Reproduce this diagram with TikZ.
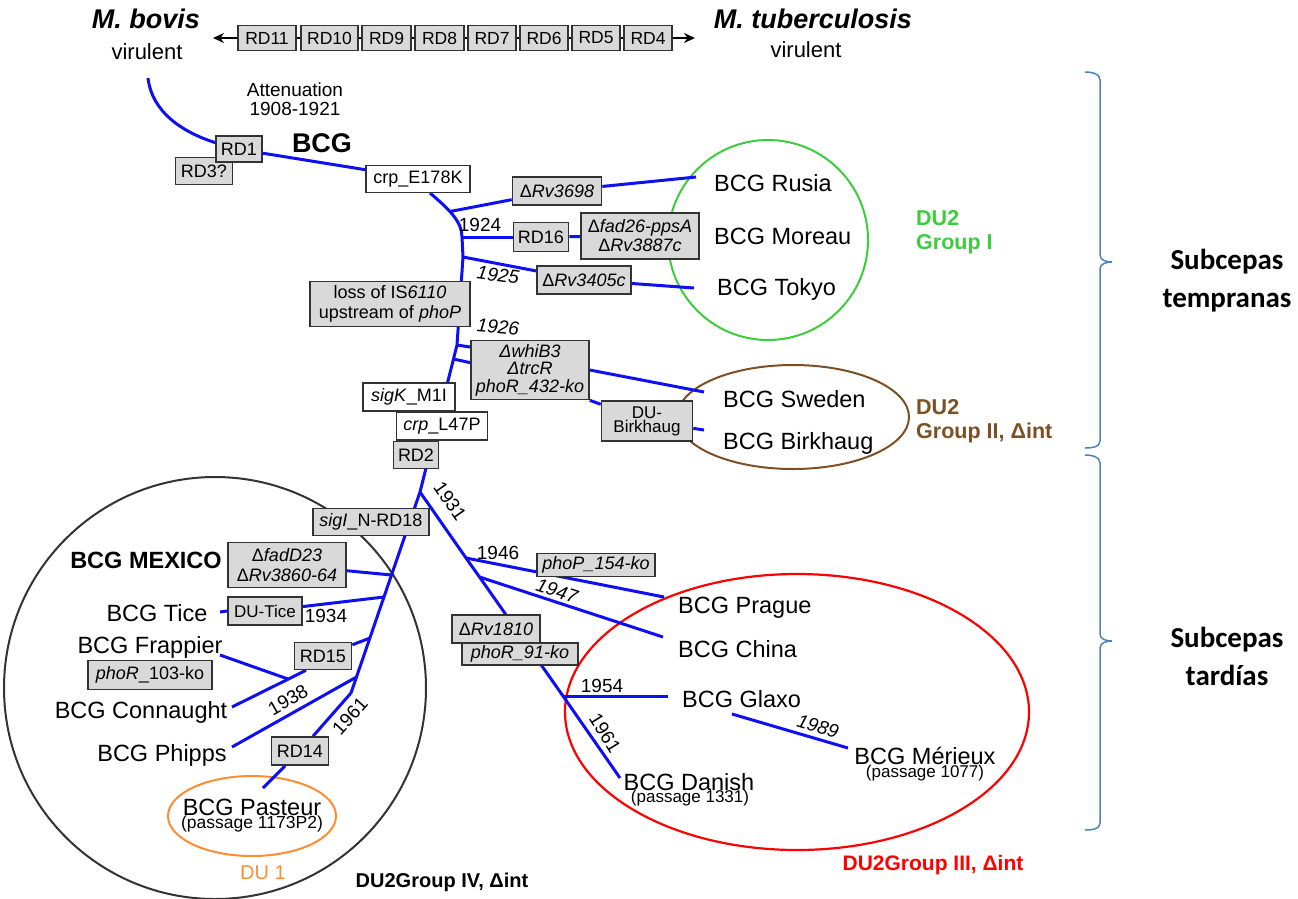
\documentclass[tikz,border=0pt]{standalone}
\usepackage{fontspec}
\setmainfont{Liberation Sans}
\newfontfamily\calibfont{Carlito}
\usetikzlibrary{arrows.meta}
\pgfdeclarelayer{back}
\pgfdeclarelayer{lines}
\pgfsetlayers{back,lines,main}
\definecolor{treeblue}{RGB}{15,15,245}
\definecolor{boxgray}{RGB}{217,217,217}
\definecolor{boxline}{RGB}{50,50,50}
\definecolor{grpgreen}{RGB}{60,205,60}
\definecolor{grpbrown}{RGB}{125,80,35}
\definecolor{grpred}{RGB}{255,0,0}
\definecolor{grporange}{RGB}{255,140,50}
\definecolor{bracecol}{RGB}{79,129,189}
\definecolor{circgray}{RGB}{51,51,51}
\begin{document}
\begin{tikzpicture}[x=1pt,y=-1pt,
  tree/.style={draw=treeblue,line width=3pt},
  gbox/.style={draw=boxline,fill=boxgray,line width=1.6pt,inner sep=0pt,align=center,font=\fontsize{18}{18}\selectfont},
  wbox/.style={gbox,fill=white},
  sz/.style 2 args={minimum width=#1pt,minimum height=#2pt},
  strain/.style={inner sep=0pt,font=\fontsize{23.5}{24}\selectfont},
  small/.style={inner sep=0pt,font=\fontsize{17}{17}\selectfont},
  yr/.style={inner sep=0pt,font=\fontsize{19}{19}\selectfont},
  yri/.style={inner sep=0pt,font=\fontsize{19}{19}\selectfont\itshape},
  grp/.style={inner sep=0pt,align=left,font=\fontsize{21.5}{24}\selectfont\bfseries},
  brace/.style={draw=bracecol,line width=1.5pt},
]
\useasboundingbox (0,0) rectangle (1298,898);

% ---------- top row ----------
\node[inner sep=0pt,font=\fontsize{27}{27}\selectfont\bfseries\itshape] (bovis) at (146,19) {M. bovis};
\node[inner sep=0pt,font=\fontsize{22}{22}\selectfont] (bovisv) at (147,52) {virulent};
\node[inner sep=0pt,font=\fontsize{27}{27}\selectfont\bfseries\itshape] (mtb) at (813,19) {M. tuberculosis};
\node[inner sep=0pt,font=\fontsize{22}{22}\selectfont] (mtbv) at (806,50) {virulent};

\coordinate (arL) at (213,38);
\coordinate (arR) at (695,38);
\tikzset{rdb/.style={gbox,font=\fontsize{17.5}{17.5}\selectfont,minimum height=25pt}}
\node[rdb,minimum width=58pt] (rd11) at (267,38) {RD11};
\node[rdb,minimum width=57pt] (rd10) at (329.5,38) {RD10};
\node[rdb,minimum width=49pt] (rd9) at (386.5,38) {RD9};
\node[rdb,minimum width=49pt] (rd8) at (439.5,38) {RD8};
\node[rdb,minimum width=48pt] (rd7) at (492,38) {RD7};
\node[rdb,minimum width=48pt] (rd6) at (544,38) {RD6};
\node[rdb,minimum width=48pt] (rd5) at (596,38) {RD5};
\node[rdb,minimum width=48pt] (rd4) at (648,38) {RD4};

% ---------- upper tree ----------
\node[inner sep=0pt,align=center,font=\fontsize{19}{18.5}\selectfont] (att) at (295,99) {Attenuation\\1908-1921};
\node[inner sep=0pt,font=\fontsize{27}{27}\selectfont\bfseries] (bcg) at (322,143) {BCG};
\node[gbox,sz={57}{27}] (rd3) at (204,171) {RD3?};
\node[gbox,sz={46}{26}] (rd1) at (239,149) {RD1};
\node[wbox,sz={104}{27}] (crp1) at (418,179) {crp\_E178K};
\node[gbox,sz={89}{28}] (rv3698) at (557,191) {Δ\textit{Rv3698}};
\node[gbox,sz={55}{29}] (rd16) at (541,237) {RD16};
\node[gbox,sz={118}{46},font=\fontsize{18}{19}\selectfont] (fad26) at (640,236) {Δ\textit{fad26-ppsA}\\Δ\textit{Rv3887c}};
\node[gbox,sz={94}{28}] (rv3405) at (584,280) {Δ\textit{Rv3405c}};
\node[gbox,sz={160}{45},font=\fontsize{18}{20}\selectfont] (loss) at (390,304) {loss of IS\textit{6110}\\upstream of \textit{phoP}};
\node[gbox,sz={118}{59},font=\fontsize{18}{17.5}\selectfont\itshape] (whib) at (530,370) {Δ{}whiB3\\Δ{}trcR\\phoR\_432-ko};
\node[gbox,sz={91}{40},font=\fontsize{17}{14}\selectfont] (dub) at (647,421) {DU-\\Birkhaug};
\node[wbox,sz={92}{28}] (sigk) at (409,397) {\textit{sigK}\_M1I};
\node[wbox,sz={91}{28}] (crp2) at (442,426) {\textit{crp}\_L47P};
\node[gbox,sz={45}{27}] (rd2) at (416,455) {RD2};

\node[yr] (y1924) at (480,225) {1924};
\node[yri,rotate=-8] (y1925) at (498,275) {1925};
\node[yri,rotate=-5] (y1926) at (498,327) {1926};

\node[strain,anchor=west] (rusia) at (714,183) {BCG Rusia};
\node[strain,anchor=west] (moreau) at (714,236) {BCG Moreau};
\node[strain,anchor=west] (tokyo) at (717,289) {BCG Tokyo};
\node[strain,anchor=west] (sweden) at (723,399) {BCG Sweden};
\node[strain,anchor=west] (birk) at (723,443) {BCG Birkhaug};

\node[grp,text=grpgreen,anchor=west] (g1) at (916,232) {DU2\\Group I};
\node[grp,text=grpbrown,anchor=west] (g2) at (916,421) {DU2\\Group II, Δint};

% ---------- lower left ----------
\node[gbox,sz={116}{27}] (sigi) at (371,522) {\textit{sigI}\_N-RD18};
\node[gbox,sz={118}{45},font=\fontsize{18}{20}\selectfont] (fadd23) at (287,565) {Δ\textit{fadD23}\\Δ\textit{Rv3860-64}};
\node[inner sep=0pt,font=\fontsize{23.5}{24}\selectfont\bfseries] (mexico) at (146,560) {BCG MEXICO};
\node[strain] (tice) at (157,613) {BCG Tice};
\node[gbox,sz={74}{28},font=\fontsize{17}{17}\selectfont] (dutice) at (265,611) {DU-Tice};
\node[yr] (y1934) at (326,616) {1934};
\node[strain] (frap) at (150,647) {BCG Frappier};
\node[gbox,sz={124}{29}] (phor103) at (150,675) {\textit{phoR}\_103-ko};
\node[gbox,sz={57}{27}] (rd15) at (323,656) {RD15};
\node[strain] (conn) at (141,712) {BCG Connaught};
\node[strain] (phipps) at (162,755) {BCG Phipps};
\node[yr,rotate=30] (y1938) at (288,700) {1938};
\node[yr,rotate=48] (y1961a) at (350,716) {1961};
\node[gbox,sz={57}{28}] (rd14) at (300,751) {RD14};
\node[strain] (pasteur) at (252,807) {BCG Pasteur};
\node[inner sep=0pt,font=\fontsize{17.5}{18}\selectfont] (passp) at (252,824) {(passage 1173P2)};
\node[inner sep=0pt,text=grporange,font=\fontsize{20}{20}\selectfont] (du1) at (263,873) {DU 1};
\node[inner sep=0pt,font=\fontsize{20}{20}\selectfont\bfseries] (g4) at (442,882) {DU2Group IV, Δint};

% ---------- lower right ----------
\node[yr,rotate=-55] (y1931) at (450,501) {1931};
\node[yr] (y1946) at (498,553) {1946};
\node[gbox,sz={118}{23},font=\fontsize{18}{18}\selectfont\itshape] (phop154) at (596,565) {phoP\_154-ko};
\node[yri,rotate=-18] (y1947) at (557,591) {1947};
\node[gbox,sz={88}{28}] (rv1810) at (496,629) {Δ\textit{Rv1810}};
\node[gbox,sz={116}{22},font=\fontsize{18}{18}\selectfont\itshape] (phor91) at (520,654) {phoR\_91-ko};
\node[strain,anchor=west] (prague) at (678,608) {BCG Prague};
\node[strain,anchor=west] (china) at (678,649) {BCG China};
\node[strain,anchor=west] (glaxo) at (682,699) {BCG Glaxo};
\node[yr] (y1954) at (602,686) {1954};
\node[yr,rotate=-58] (y1961b) at (605,733) {1961};
\node[strain] (danish) at (689,782) {BCG Danish};
\node[small] (passd) at (690,798) {(passage 1331)};
\node[yri,rotate=-17] (y1989) at (818,726) {1989};
\node[strain] (merieux) at (925,756) {BCG Mérieux};
\node[small] (passm) at (925,773) {(passage 1077)};
\node[inner sep=0pt,text=grpred,font=\fontsize{21}{21}\selectfont\bfseries] (g3) at (933,865) {DU2Group III, Δint};

% ---------- right side ----------
\node[inner sep=0pt,align=center,font=\calibfont\fontsize{29}{38}\selectfont\bfseries] (early) at (1227,281) {Subcepas\\tempranas};
\node[inner sep=0pt,align=center,font=\calibfont\fontsize{29}{38}\selectfont\bfseries] (late) at (1227,656) {Subcepas\\tardías};
\draw[brace] (1085,72) to[out=0,in=90] (1100,80) -- (1100,255) to[out=-90,in=180] (1112,262)
             to[out=180,in=90] (1100,269) -- (1100,441) to[out=-90,in=0] (1085,448);
\draw[brace] (1085,455) to[out=0,in=90] (1100,463) -- (1100,634) to[out=-90,in=180] (1112,641)
             to[out=180,in=90] (1100,648) -- (1100,823) to[out=-90,in=0] (1085,830);

% ---------- coordinates ----------
\coordinate (bovisEnd) at (148,78);
\coordinate (crp1b) at (430,193);
\coordinate (j3698) at (450,211.5);
\coordinate (j1924) at (462,237);
\coordinate (j1925) at (463,257);
\coordinate (jw1) at (457,345);
\coordinate (jw2) at (453.5,359);
\coordinate (j1931) at (420,492);
\coordinate (jfad) at (391.5,575);
\coordinate (jtice) at (384,597);
\coordinate (jrd15) at (370,638);
\coordinate (j1938) at (356.5,677);
\coordinate (j1961) at (351,693);
\coordinate (rusiaEnd) at (696,177);
\coordinate (tokyoEnd) at (694,288);
\coordinate (swedenEnd) at (704,392);
\coordinate (birkEnd) at (704,430);
\coordinate (j1946) at (466,558);
\coordinate (j1947) at (479.5,577);
\coordinate (j1954) at (563,696);
\coordinate (danishEnd) at (620,778);
\coordinate (pragueEnd) at (664,597);
\coordinate (chinaEnd) at (663,637);
\coordinate (glaxoEnd) at (668,696);
\coordinate (glaxoFrom) at (732,714);
\coordinate (merEnd) at (848,748);
\coordinate (ticeEnd) at (220,612);
\coordinate (connEnd) at (232,707);
\coordinate (jfrap) at (288,679);
\coordinate (frapEnd) at (220,655);
\coordinate (phippsEnd) at (232,747);
\coordinate (pastEnd) at (263,788);

% ---------- group ellipses ----------
\begin{pgfonlayer}{back}
\draw[grpgreen,line width=2pt] (768,240) ellipse [x radius=100pt,y radius=100pt];
\draw[grpbrown,line width=2pt] (793,417) ellipse [x radius=116pt,y radius=52pt];
\draw[grpred,line width=2.2pt] (797,712) ellipse [x radius=232pt,y radius=138pt];
\draw[circgray,line width=2pt] (215,688) circle [radius=211pt];
\draw[grporange,line width=2pt] (252,816) ellipse [x radius=84pt,y radius=40pt];
\end{pgfonlayer}

% ---------- tree lines ----------
\begin{pgfonlayer}{lines}
\draw[line width=1.5pt,{Stealth[length=11pt,width=10pt]}-{Stealth[length=11pt,width=10pt]}] (arL) -- (arR);
\draw[tree] (bovisEnd) .. controls (152,112) and (182,132) .. (rd1.165);
\draw[tree] (rd1.-10) -- (crp1.170);
\draw[tree] (crp1b) .. controls (450,210) and (462,222) .. (j1924) -- (j1925) -- (jw1) -- (jw2) -- (j1931) -- (j1961);
\draw[tree] (j3698) -- (rv3698);
\draw[tree] (rv3698) -- (rusiaEnd);
\draw[tree] (j1924) -- (rd16);
\draw[tree] (rd16) -- (fad26);
\draw[tree] (j1925) -- (rv3405);
\draw[tree] (rv3405) -- (tokyoEnd);
\draw[tree] (jw1) -- (whib.159);
\draw[tree] (jw2) -- (whib.173);
\draw[tree] (whib.east) -- (swedenEnd);
\draw[tree] (whib.south east) -- (dub);
\draw[tree] (dub) -- (birkEnd);
% lower right
\draw[tree] (j1931) -- (j1946) -- (j1947) -- (j1954) -- (danishEnd);
\draw[tree] (j1946) -- (pragueEnd);
\draw[tree] (j1947) -- (chinaEnd);
\draw[tree] (j1954) -- (glaxoEnd);
\draw[tree] (glaxoFrom) -- (merEnd);
% lower left
\draw[tree] (jfad) -- (fadd23);
\draw[tree] (jtice) -- (dutice);
\draw[tree] (ticeEnd) -- (dutice.west);
\draw[tree] (jrd15) -- (rd15);
\draw[tree] (rd15.-140) -- (connEnd);
\draw[tree] (frapEnd) -- (jfrap);
\draw[tree] (j1938) -- (phippsEnd);
\draw[tree] (j1961) -- (rd14);
\draw[tree] (rd14) -- (pastEnd);
\end{pgfonlayer}
\end{tikzpicture}
\end{document}
